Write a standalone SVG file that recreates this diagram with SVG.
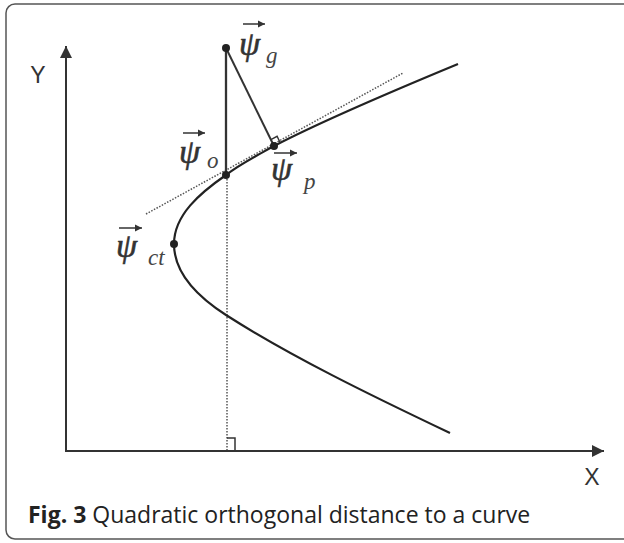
<svg xmlns="http://www.w3.org/2000/svg" width="624" height="543" viewBox="0 0 624 543">
<style>
.axis{stroke:#333;stroke-width:2;fill:none}
.curve{stroke:#222;stroke-width:2.2;fill:none}
.solid{stroke:#333;stroke-width:2.3;fill:none}
.dot{stroke:#555;stroke-width:1.5;stroke-dasharray:1.5 1.5;fill:none}
.pt{fill:#222}
.ax{font-family:"Liberation Sans",Arial,sans-serif;font-size:23px;fill:#333}
.psi{font-family:"Liberation Serif","Times New Roman",serif;font-style:italic;font-size:34px;fill:#333;stroke:#333;stroke-width:0.6}
.sub{font-family:"Liberation Serif","Times New Roman",serif;font-style:italic;font-size:23px;fill:#444}
.vec{stroke:#333;stroke-width:1.5;fill:none}
.cap{font-family:"Open Sans","Noto Sans",sans-serif;font-size:23px;fill:#222}
</style>
<defs>
<marker id="ah" viewBox="0 0 10 10" refX="10" refY="5" markerWidth="6" markerHeight="6" markerUnits="strokeWidth" orient="auto">
<path d="M0,0 L10,5 L0,10 z" fill="#333"/>
</marker>
<marker id="va" viewBox="0 0 10 10" refX="10" refY="5" markerWidth="5" markerHeight="5" markerUnits="strokeWidth" orient="auto">
<path d="M0,0 L10,5 L0,10 z" fill="#333"/>
</marker>
</defs>
<rect x="6" y="4" width="720" height="535" rx="9" fill="none" stroke="#555" stroke-width="1.5"/>
<g id="connectors">
<line class="axis" x1="66" y1="451" x2="66" y2="46" marker-end="url(#ah)"/>
<line class="axis" x1="65" y1="451" x2="604" y2="451" marker-end="url(#ah)"/>
<line class="dot" x1="146" y1="214" x2="403" y2="73"/>
<line class="dot" x1="227" y1="176" x2="227" y2="450"/>
<polyline points="227,438 235,438 235,450" fill="none" stroke="#333" stroke-width="1.5"/>
<path class="curve" d="M458,64 C400,88 320,122 274,146 C258,155 240,164 226,175 C200,193 174,215 174,244 C174,274 198,297 226,315 C290,356 370,395 450,433"/>
<line class="solid" x1="226" y1="48" x2="226" y2="175"/>
<line class="solid" x1="226" y1="48" x2="274" y2="146" style="stroke-width:2"/>
<polyline points="270.9,139.7 277.1,136.3 280.1,142.6" fill="none" stroke="#333" stroke-width="1.4"/>
</g>
<g id="axis-labels">
<text class="ax" x="38" y="83" text-anchor="middle">Y</text>
<text class="ax" x="592" y="485" text-anchor="middle">X</text>
</g>
<g id="psi-g">
<circle class="pt" cx="226" cy="48" r="4"/>
<text class="psi" x="239" y="55">ψ</text>
<line class="vec" x1="243" y1="24" x2="265" y2="24" marker-end="url(#va)"/>
<text class="sub" x="266" y="63">g</text>
</g>
<g id="psi-o">
<circle class="pt" cx="226" cy="175" r="4"/>
<text class="psi" x="179" y="163">ψ</text>
<line class="vec" x1="183" y1="133" x2="205" y2="133" marker-end="url(#va)"/>
<text class="sub" x="207" y="168">o</text>
</g>
<g id="psi-p">
<circle class="pt" cx="274" cy="146" r="4"/>
<text class="psi" x="271" y="180">ψ</text>
<line class="vec" x1="274" y1="153" x2="297" y2="153" marker-end="url(#va)"/>
<text class="sub" x="304" y="189">p</text>
</g>
<g id="psi-ct">
<circle class="pt" cx="174" cy="244" r="4"/>
<text class="psi" x="116" y="257">ψ</text>
<line class="vec" x1="119" y1="228" x2="142" y2="228" marker-end="url(#va)"/>
<text class="sub" x="148" y="265">ct</text>
</g>
<g id="caption">
<text class="cap" x="28" y="523"><tspan font-weight="bold">Fig. 3</tspan> Quadratic orthogonal distance to a curve</text>
</g>
</svg>
